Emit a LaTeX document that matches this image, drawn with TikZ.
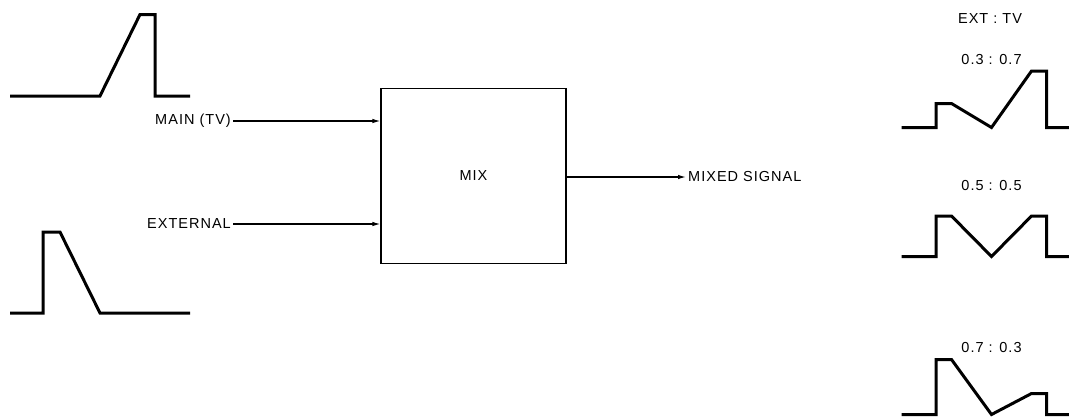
\documentclass[tikz,border=0pt]{standalone}
\usepackage{fontspec}
\setmainfont{Liberation Sans}[LetterSpace=7]
\usetikzlibrary{arrows.meta,positioning}

\begin{document}
\begin{tikzpicture}[x=1bp, y=-1bp,
    >={Latex[length=8bp,width=4.5bp]},
    every node/.style={
        inner sep=2bp,
        font=\fontsize{14.5bp}{17bp}\selectfont
    },
    wave/.style={line width=3bp, line join=miter},
    feed/.style={->, line width=1.2bp}
]

    \useasboundingbox (0,0) rectangle (1069,416);

    % input waveforms
    \draw[wave] (10,96) -- (100,96) -- (140,14.5) -- (155,14.5) -- (155,96) -- (190,96);
    \draw[wave] (10,313) -- (43,313) -- (43,232) -- (60,232) -- (100,313) -- (190,313);



    \node (main_tv) [anchor=east, shift={(233, 121)}]
    {
        MAIN (TV)
    };

    \node (external) [anchor=east, shift={(233, 224)}]
    {
        EXTERNAL
    };

    \node (mix) [draw, line width=1.2bp, minimum width=185bp, minimum height=175bp, shift={(473.5, 176)}]
    {
        MIX
    };

    \node (mixed_signal) [anchor=west, shift={(686, 177)}]
    {
        MIXED SIGNAL
    };


    \draw[feed] (main_tv) -- (main_tv -| mix.west);
    \draw[feed] (external) -- (external -| mix.west);
    \draw[feed] (mix.east |- mixed_signal) -- (mixed_signal);



    % mixing ratios
    \node (ext_tv) [shift={(990, 19)}]
    {
        EXT : TV
    };

    \node (ratio_a) [shift={(991.5, 60)}]
    {
        0.3 : 0.7
    };

    \node (ratio_b) [shift={(991.5, 186)}]
    {
        0.5 : 0.5
    };

    \node (ratio_c) [shift={(991.5, 347.5)}]
    {
        0.7 : 0.3
    };

    \draw[wave] (901.5,127.5) -- (936,127.5) -- (936,103.5) -- (951.5,103.5) -- (991.5,127.5)
        -- (1031.5,71) -- (1046.5,71) -- (1046.5,127.5) -- (1069,127.5);
    \draw[wave] (901.5,256.5) -- (936,256.5) -- (936,216) -- (951.5,216) -- (991.5,256.5)
        -- (1031.5,216) -- (1046.5,216) -- (1046.5,256.5) -- (1069,256.5);
    \draw[wave] (901.5,414.5) -- (936,414.5) -- (936,359.5) -- (951.5,359.5) -- (991.5,414.5)
        -- (1031.5,393.5) -- (1046.5,393.5) -- (1046.5,414.5) -- (1069,414.5);

\end{tikzpicture}
\end{document}
